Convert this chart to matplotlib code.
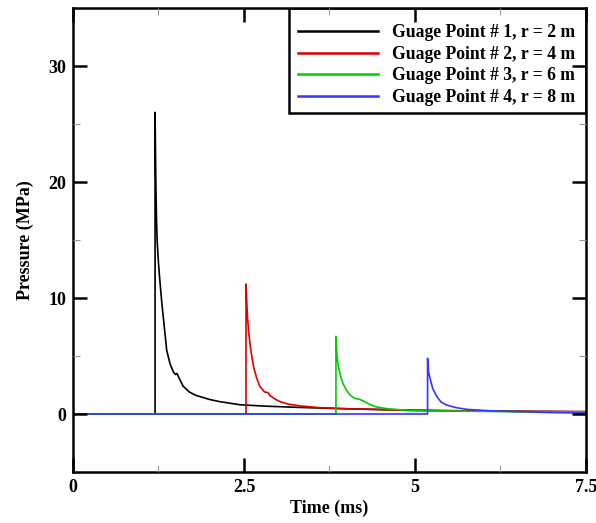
import numpy as np
import matplotlib

matplotlib.use("Agg")
import matplotlib.pyplot as plt
from matplotlib.patches import Rectangle

plt.rcParams["font.family"] = ["Liberation Serif", "DejaVu Serif"]
plt.rcParams["font.weight"] = "bold"

# gauge point 1, r = 2 m
T1 = [0, 1.2, 1.2, 1.21, 1.22, 1.23, 1.25, 1.27, 1.3, 1.33, 1.37, 1.42, 1.47, 1.5,
      1.52, 1.56, 1.61, 1.7, 1.8, 2.0, 2.15, 2.44, 2.8, 3.3, 4.0, 5.0, 6.0, 7.5]
P1 = [0, 0, 26.0, 20.5, 17.0, 15.0, 13.0, 11.5, 9.5, 7.8, 5.5, 4.3, 3.6, 3.4,
      3.5, 3.0, 2.4, 1.9, 1.6, 1.25, 1.06, 0.8, 0.68, 0.57, 0.45, 0.33, 0.25, 0.2]
# gauge point 2, r = 4 m
T2 = [0, 2.53, 2.53, 2.54, 2.55, 2.57, 2.6, 2.64, 2.68, 2.73, 2.8, 2.85, 2.88,
      2.95, 3.03, 3.15, 3.32, 3.6, 4.0, 5.0, 6.0, 7.5]
P2 = [0, 0, 11.2, 9.8, 8.5, 7.0, 5.5, 4.1, 3.2, 2.4, 1.9, 1.85, 1.6,
      1.3, 1.06, 0.85, 0.7, 0.55, 0.45, 0.3, 0.25, 0.2]
# gauge point 3, r = 6 m
T3 = [0, 3.845, 3.845, 3.86, 3.88, 3.92, 3.95, 4.0, 4.05, 4.12, 4.2, 4.25, 4.35,
      4.44, 4.6, 4.93, 5.5, 6.5, 7.5]
P3 = [0, 0, 6.7, 5.0, 4.1, 3.1, 2.6, 2.05, 1.64, 1.35, 1.25, 1.1, 0.8,
      0.6, 0.45, 0.3, 0.25, 0.2, 0.18]
# gauge point 4, r = 8 m
T4 = [0, 5.185, 5.185, 5.2, 5.22, 5.26, 5.32, 5.38, 5.46, 5.6, 5.76, 6.1, 6.54, 7.0, 7.5]
P4 = [0, 0, 4.8, 3.6, 3.1, 2.2, 1.5, 1.05, 0.78, 0.55, 0.4, 0.28, 0.2, 0.12, 0.08]

LABELS = ["Guage Point # 1, r = 2 m", "Guage Point # 2, r = 4 m",
          "Guage Point # 3, r = 6 m", "Guage Point # 4, r = 8 m"]
COLORS = ["black", "#dd0000", "#00cc00", "#3535ff"]

X_TICKS = [0, 2.5, 5, 7.5]
X_TICKLABELS = ["0", "2.5", "5", "7.5"]
Y_TICKS = [0, 10, 20, 30]


def main():
    fig = plt.figure(figsize=(5.96, 5.23), dpi=100)
    ax = fig.add_axes([0.1225, 0.0975, 0.8605, 0.8872])

    series = [(T1, P1), (T2, P2), (T3, P3), (T4, P4)]
    for (t, p), lab, col in zip(series, LABELS, COLORS):
        ax.plot(t, p, color=col, lw=1.2, label=lab)

    ax.set_xlim(0, 7.5)
    ax.set_ylim(-5, 35)
    ax.set_xticks(X_TICKS)
    ax.set_xticklabels(X_TICKLABELS)
    ax.set_xticks([1.25, 3.75, 6.25], minor=True)
    ax.set_yticks(Y_TICKS)
    ax.set_yticks([5, 15, 25], minor=True)
    ax.tick_params(which="both", direction="in", top=True, right=True)
    ax.tick_params(which="major", length=10, width=1.8, labelsize=13, pad=5)
    ax.tick_params(which="minor", length=5, width=0.8, color="#999999")
    for lbl in ax.get_xticklabels() + ax.get_yticklabels():
        lbl.set_fontweight("bold")
    for sp in ax.spines.values():
        sp.set_linewidth(1.8)
        sp.set_zorder(6)
    # ticks are drawn over the legend box, as in the original
    ax.xaxis.set_zorder(6)
    ax.yaxis.set_zorder(6)

    ax.set_xlabel("Time (ms)", fontsize=13, fontweight="bold", labelpad=3)
    ax.set_ylabel("Pressure (MPa)", fontsize=13, fontweight="bold", labelpad=10)

    # legend box: white, black edge, flush with the top-right corner
    box = Rectangle((0.421, 0.7737), 1 - 0.421, 1 - 0.7737, transform=ax.transAxes,
                    facecolor="white", edgecolor="black", lw=1.8, zorder=4)
    ax.add_patch(box)
    leg = ax.legend(loc="upper left", bbox_to_anchor=(0.4386, 0.965),
                    borderaxespad=0, borderpad=0, frameon=False,
                    handlelength=4.55, handletextpad=0.8, labelspacing=0.26,
                    prop={"size": 12.7, "weight": "bold"})
    for h in leg.get_lines():
        h.set_linewidth(1.8)
    leg.set_zorder(5)

    fig.savefig("out.png", dpi=100)
    plt.close(fig)


if __name__ == "__main__":
    main()
